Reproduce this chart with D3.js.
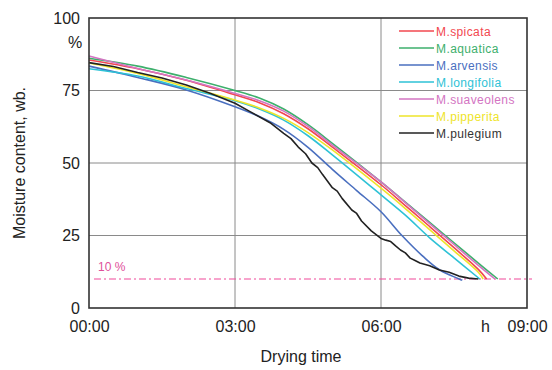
<!DOCTYPE html>
<html>
<head>
<meta charset="utf-8">
<script src="https://cdn.jsdelivr.net/npm/d3@7"></script>
<style>
  body { margin: 0; background: #fff; }
  svg { display: block; font-family: "Liberation Sans", Arial, sans-serif; }
</style>
</head>
<body>
<svg id="chart" width="552" height="370"></svg>
<script>
// time in hours, moisture content in % wb
const yTicks = [0, 25, 50, 75, 100];
const xTicks = [0, 3, 6, 9];
const xTickLabels = ['00:00', '03:00', '06:00', '09:00'];
const threshold = 10;

const spicata = [[0, 85.5], [1, 82.5], [2, 78.5], [3, 73.5], [3.5, 70.8], [4, 67], [4.5, 61.8], [5, 55.5], [6, 42.5], [6.5, 35.3], [7, 28.1], [7.5, 20.8], [8, 13.3], [8.17, 10]];
const aquatica = [[0, 86.1], [1, 83.4], [2, 79.5], [3, 75], [3.5, 72.4], [4, 68.6], [4.5, 63.2], [5, 56.8], [6, 43.5], [6.5, 36.5], [7, 29.5], [7.5, 22.5], [8, 15.5], [8.4, 10]];
const arvensis = [[0, 83.4], [1, 79.5], [2, 75.2], [3, 69.4], [3.5, 66], [4, 61.6], [4.5, 55.4], [5, 47.8], [5.5, 40.5], [6, 33.2], [6.43, 25], [6.87, 17.7], [7.21, 13.1], [7.67, 9.6]];
const longifolia = [[0, 82.5], [1, 80], [2, 75.7], [3, 71.5], [3.5, 68.6], [4, 64.8], [4.5, 59.4], [5, 52.8], [6, 39], [6.5, 32], [7, 24.2], [7.5, 17.3], [8.03, 10]];
const suaveolens = [[0, 86.9], [1, 82.6], [2, 78.6], [3, 74], [3.5, 71.5], [4, 67.9], [4.5, 62.6], [5, 56.2], [6, 43.5], [6.5, 36.3], [7, 29.1], [7.5, 21.9], [8, 14.7], [8.34, 10]];
const pipperita = [[0, 84.5], [1, 80.9], [2, 76.3], [3, 71.7], [3.5, 69], [4, 65.4], [4.5, 60.5], [5, 54.5], [6, 41.3], [6.5, 34.3], [7, 27], [7.5, 19.7], [8, 12.3], [8.1, 10]];
const pulegium = [[0, 84.6], [0.5, 83.3], [1, 81.2], [1.5, 79.3], [2, 76.9], [2.5, 74], [3, 70.6], [3.3, 67.8], [3.72, 63.9], [4, 60.2], [4.15, 58.4], [4.3, 55.5],
  [4.45, 53.2], [4.58, 50], [4.7, 48.4], [4.8, 46], [5, 41.5], [5.1, 40.3], [5.2, 37.8], [5.4, 33.8], [5.5, 32.6], [5.6, 30], [5.8, 26.6], [5.9, 25.3], [6, 24],
  [6.1, 23.4], [6.2, 22.9], [6.3, 21.4], [6.4, 20], [6.5, 19], [6.6, 17.2], [6.7, 16.4], [6.8, 15.5], [7, 14.6], [7.2, 13.1], [7.4, 12.3], [7.6, 11], [7.8, 10.3], [8, 10]];

const seriesNames = ['M.spicata', 'M.aquatica', 'M.arvensis', 'M.longifolia', 'M.suaveolens', 'M.pipperita', 'M.pulegium'];
const seriesData = [spicata, aquatica, arvensis, longifolia, suaveolens, pipperita, pulegium];
const seriesColors = ['#f2474f', '#3daf6c', '#4a6fbf', '#2ec2d6', '#d374c2', '#eee42a', '#222222'];

const svg = d3.select('#chart');
const margin = { top: 18, right: 25, bottom: 62, left: 89 };
const width = 552 - margin.left - margin.right;
const height = 370 - margin.top - margin.bottom;

const x = d3.scaleLinear().domain([0, 9]).range([0, width]);
const y = d3.scaleLinear().domain([0, 100]).range([height, 0]);

const g = svg.append('g').attr('transform', `translate(${margin.left},${margin.top})`);

// grid
g.append('g').selectAll('line.h')
  .data(yTicks.filter(d => d > 0 && d < 100))
  .join('line')
  .attr('x1', 0).attr('x2', width)
  .attr('y1', d => y(d)).attr('y2', d => y(d))
  .attr('stroke', '#8a8a8a').attr('stroke-width', 1);

g.append('g').selectAll('line.v')
  .data(xTicks.filter(d => d > 0 && d < 9))
  .join('line')
  .attr('x1', d => x(d)).attr('x2', d => x(d))
  .attr('y1', 0).attr('y2', height)
  .attr('stroke', '#8a8a8a').attr('stroke-width', 1);

// axes labels via d3 axes (no tick lines)
const yAxis = g.append('g')
  .call(d3.axisLeft(y).tickValues(yTicks).tickSize(0).tickPadding(9))
  .call(a => a.select('.domain').remove());
yAxis.selectAll('text').attr('font-size', 16).attr('fill', '#222').attr('font-family', '"Liberation Sans", Arial, sans-serif');

const xAxis = g.append('g')
  .attr('transform', `translate(0,${height})`)
  .call(d3.axisBottom(x).tickValues(xTicks).tickFormat((d, i) => xTickLabels[i]).tickSize(0).tickPadding(13))
  .call(a => a.select('.domain').remove());
xAxis.selectAll('text').attr('font-size', 16).attr('fill', '#222').attr('font-family', '"Liberation Sans", Arial, sans-serif');

// threshold line
g.append('line')
  .attr('x1', 5).attr('x2', width + 5)
  .attr('y1', y(threshold)).attr('y2', y(threshold))
  .attr('stroke', '#f0489a').attr('stroke-width', 1.2)
  .attr('stroke-dasharray', '7,3,2,3');

g.append('text')
  .attr('x', 9).attr('y', y(threshold) - 8)
  .attr('font-size', 12).attr('fill', '#e0509a')
  .text('10 %');

// curves
const smooth = d3.line().x(d => x(d[0])).y(d => y(d[1])).curve(d3.curveCatmullRom.alpha(0.5));
const jagged = d3.line().x(d => x(d[0])).y(d => y(d[1]));

g.append('g').selectAll('path')
  .data(seriesData)
  .join('path')
  .attr('d', (d, i) => (seriesNames[i] === 'M.pulegium' ? jagged : smooth)(d))
  .attr('fill', 'none')
  .attr('stroke', (d, i) => seriesColors[i])
  .attr('stroke-width', 1.6)
  .attr('stroke-linejoin', 'round');

// frame
g.append('rect')
  .attr('x', 0).attr('y', 0)
  .attr('width', width).attr('height', height)
  .attr('fill', 'none').attr('stroke', '#333').attr('stroke-width', 1.6);

// legend
const legend = svg.append('g').attr('transform', 'translate(399,31)');
const rows = legend.selectAll('g')
  .data(seriesNames)
  .join('g')
  .attr('transform', (d, i) => `translate(0,${i * 17})`);
rows.append('line')
  .attr('x1', 0).attr('x2', 35).attr('y1', 0).attr('y2', 0)
  .attr('stroke', (d, i) => seriesColors[i]).attr('stroke-width', 1.6);
rows.append('text')
  .attr('x', 37).attr('y', 4.5)
  .attr('font-size', 12).attr('letter-spacing', 0.4)
  .attr('fill', (d, i) => i === 6 ? '#333' : seriesColors[i])
  .text(d => d);

// units and titles
svg.append('text').attr('x', 68).attr('y', 48).attr('font-size', 16).attr('fill', '#222').text('%');
svg.append('text').attr('x', 481).attr('y', 332).attr('font-size', 16).attr('fill', '#222').text('h');

svg.append('text')
  .attr('x', margin.left + width / 2 - 7).attr('y', 362)
  .attr('text-anchor', 'middle').attr('font-size', 16).attr('fill', '#222')
  .text('Drying time');

svg.append('text')
  .attr('transform', `translate(25,${margin.top + height / 2}) rotate(-90)`)
  .attr('text-anchor', 'middle').attr('font-size', 16).attr('fill', '#222')
  .text('Moisture content, wb.');
</script>
</body>
</html>
